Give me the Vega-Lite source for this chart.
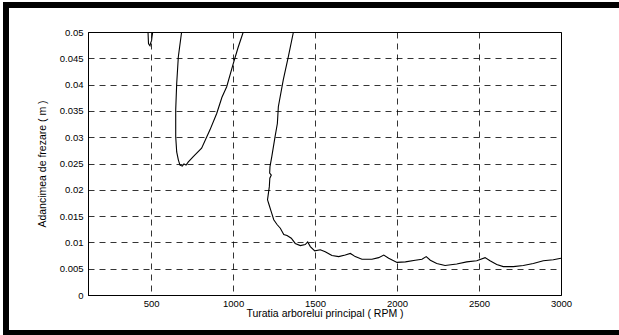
{
  "$schema": "https://vega.github.io/schema/vega-lite/v6.json",
  "width": 473,
  "height": 263,
  "autosize": "none",
  "padding": {"left": 88, "top": 32, "right": 58, "bottom": 40},
  "background": "white",
  "config": {
    "font": "Liberation Sans",
    "view": {"stroke": "black", "strokeWidth": 1},
    "axis": {
      "labelFont": "Liberation Sans",
      "titleFont": "Liberation Sans",
      "labelColor": "black",
      "titleColor": "black",
      "labelFontSize": 9.5,
      "titleFontSize": 10.5,
      "titleFontWeight": "normal",
      "domainColor": "black",
      "ticks": false,
      "grid": true,
      "labelOverlap": false,
      "labelFlush": false,
      "gridColor": "black",
      "gridOpacity": 1,
      "gridDash": [6, 5],
      "gridWidth": 0.8
    }
  },
  "data": {
    "values": [
      {"s": "A", "i": 1, "rpm": 481, "d": 0.05},
      {"s": "A", "i": 2, "rpm": 483, "d": 0.0485},
      {"s": "A", "i": 3, "rpm": 484, "d": 0.0478},
      {"s": "A", "i": 4, "rpm": 488, "d": 0.0476},
      {"s": "A", "i": 5, "rpm": 493, "d": 0.0474},
      {"s": "A", "i": 6, "rpm": 497, "d": 0.0479},
      {"s": "A", "i": 7, "rpm": 503, "d": 0.0484},
      {"s": "A", "i": 8, "rpm": 505, "d": 0.049},
      {"s": "A", "i": 9, "rpm": 510, "d": 0.05},
      {"s": "B", "i": 1, "rpm": 686, "d": 0.05},
      {"s": "B", "i": 2, "rpm": 666, "d": 0.0453},
      {"s": "B", "i": 3, "rpm": 656, "d": 0.0402},
      {"s": "B", "i": 4, "rpm": 650, "d": 0.0352},
      {"s": "B", "i": 5, "rpm": 650, "d": 0.0301},
      {"s": "B", "i": 6, "rpm": 656, "d": 0.0272},
      {"s": "B", "i": 7, "rpm": 666, "d": 0.0257},
      {"s": "B", "i": 8, "rpm": 676, "d": 0.0247},
      {"s": "B", "i": 9, "rpm": 690, "d": 0.0245},
      {"s": "B", "i": 10, "rpm": 700, "d": 0.0249},
      {"s": "B", "i": 11, "rpm": 713, "d": 0.0247},
      {"s": "B", "i": 12, "rpm": 727, "d": 0.0253},
      {"s": "B", "i": 13, "rpm": 757, "d": 0.0263},
      {"s": "B", "i": 14, "rpm": 808, "d": 0.0279},
      {"s": "B", "i": 15, "rpm": 859, "d": 0.0314},
      {"s": "B", "i": 16, "rpm": 900, "d": 0.0345},
      {"s": "B", "i": 17, "rpm": 932, "d": 0.0376},
      {"s": "B", "i": 18, "rpm": 961, "d": 0.0396},
      {"s": "B", "i": 19, "rpm": 1001, "d": 0.044},
      {"s": "B", "i": 20, "rpm": 1030, "d": 0.047},
      {"s": "B", "i": 21, "rpm": 1062, "d": 0.05},
      {"s": "C", "i": 1, "rpm": 1368, "d": 0.05},
      {"s": "C", "i": 2, "rpm": 1337, "d": 0.0453},
      {"s": "C", "i": 3, "rpm": 1306, "d": 0.0409},
      {"s": "C", "i": 4, "rpm": 1276, "d": 0.0358},
      {"s": "C", "i": 5, "rpm": 1270, "d": 0.0326},
      {"s": "C", "i": 6, "rpm": 1256, "d": 0.0301},
      {"s": "C", "i": 7, "rpm": 1236, "d": 0.0263},
      {"s": "C", "i": 8, "rpm": 1225, "d": 0.0244},
      {"s": "C", "i": 9, "rpm": 1223, "d": 0.0232},
      {"s": "C", "i": 10, "rpm": 1233, "d": 0.0228},
      {"s": "C", "i": 11, "rpm": 1224, "d": 0.0222},
      {"s": "C", "i": 12, "rpm": 1221, "d": 0.0206},
      {"s": "C", "i": 13, "rpm": 1210, "d": 0.0181},
      {"s": "C", "i": 14, "rpm": 1217, "d": 0.0174},
      {"s": "C", "i": 15, "rpm": 1233, "d": 0.0158},
      {"s": "C", "i": 16, "rpm": 1248, "d": 0.0143},
      {"s": "C", "i": 17, "rpm": 1268, "d": 0.0134},
      {"s": "C", "i": 18, "rpm": 1288, "d": 0.0127},
      {"s": "C", "i": 19, "rpm": 1309, "d": 0.0115},
      {"s": "C", "i": 20, "rpm": 1329, "d": 0.0113},
      {"s": "C", "i": 21, "rpm": 1355, "d": 0.0108},
      {"s": "C", "i": 22, "rpm": 1379, "d": 0.0098},
      {"s": "C", "i": 23, "rpm": 1410, "d": 0.0094},
      {"s": "C", "i": 24, "rpm": 1440, "d": 0.0096},
      {"s": "C", "i": 25, "rpm": 1455, "d": 0.0101},
      {"s": "C", "i": 26, "rpm": 1471, "d": 0.0092},
      {"s": "C", "i": 27, "rpm": 1498, "d": 0.0084},
      {"s": "C", "i": 28, "rpm": 1532, "d": 0.0086},
      {"s": "C", "i": 29, "rpm": 1562, "d": 0.0082},
      {"s": "C", "i": 30, "rpm": 1603, "d": 0.0075},
      {"s": "C", "i": 31, "rpm": 1644, "d": 0.0073},
      {"s": "C", "i": 32, "rpm": 1684, "d": 0.0076},
      {"s": "C", "i": 33, "rpm": 1715, "d": 0.0079},
      {"s": "C", "i": 34, "rpm": 1745, "d": 0.0073},
      {"s": "C", "i": 35, "rpm": 1786, "d": 0.0068},
      {"s": "C", "i": 36, "rpm": 1847, "d": 0.0068},
      {"s": "C", "i": 37, "rpm": 1888, "d": 0.0071},
      {"s": "C", "i": 38, "rpm": 1919, "d": 0.0076},
      {"s": "C", "i": 39, "rpm": 1949, "d": 0.007},
      {"s": "C", "i": 40, "rpm": 2000, "d": 0.0062},
      {"s": "C", "i": 41, "rpm": 2051, "d": 0.0063},
      {"s": "C", "i": 42, "rpm": 2111, "d": 0.0066},
      {"s": "C", "i": 43, "rpm": 2152, "d": 0.0068},
      {"s": "C", "i": 44, "rpm": 2178, "d": 0.0073},
      {"s": "C", "i": 45, "rpm": 2203, "d": 0.0066},
      {"s": "C", "i": 46, "rpm": 2242, "d": 0.006},
      {"s": "C", "i": 47, "rpm": 2293, "d": 0.0056},
      {"s": "C", "i": 48, "rpm": 2364, "d": 0.0059},
      {"s": "C", "i": 49, "rpm": 2425, "d": 0.0063},
      {"s": "C", "i": 50, "rpm": 2486, "d": 0.0065},
      {"s": "C", "i": 51, "rpm": 2537, "d": 0.0071},
      {"s": "C", "i": 52, "rpm": 2567, "d": 0.0065},
      {"s": "C", "i": 53, "rpm": 2608, "d": 0.0058},
      {"s": "C", "i": 54, "rpm": 2648, "d": 0.0054},
      {"s": "C", "i": 55, "rpm": 2709, "d": 0.0054},
      {"s": "C", "i": 56, "rpm": 2770, "d": 0.0056},
      {"s": "C", "i": 57, "rpm": 2831, "d": 0.006},
      {"s": "C", "i": 58, "rpm": 2892, "d": 0.0065},
      {"s": "C", "i": 59, "rpm": 2953, "d": 0.0067},
      {"s": "C", "i": 60, "rpm": 3000, "d": 0.007}
    ]
  },
  "layer": [
    {
      "mark": {"type": "line", "color": "black", "strokeWidth": 1.1, "clip": true},
      "encoding": {
        "x": {
          "field": "rpm", "type": "quantitative",
          "scale": {"domain": [115, 3000], "nice": false, "zero": false},
          "axis": {
            "values": [500, 1000, 1500, 2000, 2500, 3000],
            "format": "d",
            "title": "Turatia arborelui principal ( RPM )",
            "labelPadding": 3,
            "titlePadding": 1
          }
        },
        "y": {
          "field": "d", "type": "quantitative",
          "scale": {"domain": [0, 0.05], "nice": false},
          "axis": {
            "values": [0, 0.005, 0.01, 0.015, 0.02, 0.025, 0.03, 0.035, 0.04, 0.045, 0.05],
            "format": "~g",
            "title": "Adancimea de frezare ( m )",
            "labelPadding": 5,
            "titlePadding": 12
          }
        },
        "detail": {"field": "s"},
        "order": {"field": "i"}
      }
    },
    {
      "mark": {"type": "rect", "fill": null, "filled": false, "stroke": "black", "strokeWidth": 5, "clip": false},
      "encoding": {
        "x": {
          "datum": -388, "type": "quantitative",
          "axis": {
            "values": [500, 1000, 1500, 2000, 2500, 3000],
            "format": "d",
            "title": "Turatia arborelui principal ( RPM )",
            "labelPadding": 3,
            "titlePadding": 1
          }
        },
        "x2": {"datum": 3400},
        "y": {
          "datum": 0.05509, "type": "quantitative",
          "axis": {
            "values": [0, 0.005, 0.01, 0.015, 0.02, 0.025, 0.03, 0.035, 0.04, 0.045, 0.05],
            "format": "~g",
            "title": "Adancimea de frezare ( m )",
            "labelPadding": 5,
            "titlePadding": 12
          }
        },
        "y2": {"datum": -0.00713}
      }
    }
  ]
}
